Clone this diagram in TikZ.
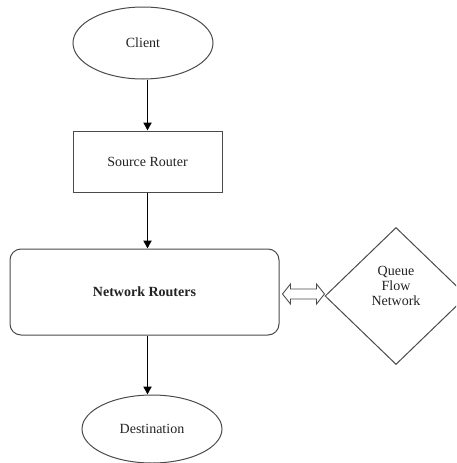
\documentclass[tikz,border=0pt]{standalone}
\usepackage{fontspec}
\setmainfont{Liberation Serif}
\usetikzlibrary{shapes.geometric,arrows.meta,calc}
\definecolor{edgegray}{HTML}{4A4A4A}
\definecolor{txt}{HTML}{222222}
\tikzset{
  x=1pt,y=1pt,
  shapeline/.style={draw=edgegray,line width=1pt,text=txt,font=\fontsize{14}{15}\selectfont,inner sep=0pt},
  ellnode/.style={shapeline,ellipse,minimum width=140pt,minimum height=72pt},
  boxnode/.style={shapeline,rectangle,minimum width=149pt,minimum height=61pt},
  rbox/.style={shapeline,rectangle,rounded corners=11pt,minimum width=269pt,minimum height=86pt},
  dianode/.style={shapeline,diamond,minimum width=142pt,minimum height=137pt,align=center},
  flowarrow/.style={draw=black,line width=1.9pt,-{Triangle[length=8pt,width=8pt]}},
  hollow/.style={draw=edgegray,line width=0.9pt,fill=white}
}
\begin{document}
\begin{tikzpicture}
\useasboundingbox (0,0) rectangle (456,-463);
\clip (0,0) rectangle (456,-463);
\node[ellnode] (client) at (143,-43) {Client};
\node[boxnode] (src) at (147.5,-161.5) {Source Router};
\node[rbox] (nr) at (144.5,-292) {\bfseries Network Routers};
\node[dianode] (qfn) at (396,-296) {};
\node[text=txt,font=\fontsize{14}{15}\selectfont,align=center,inner sep=0pt] (qfnlabel) at (396,-286) {Queue\\Flow\\Network};
\node[ellnode,minimum height=68pt] (dest) at (152,-429) {Destination};
\draw[flowarrow] (client.south -| src.center) -- (src.north);
\draw[flowarrow] (src.south) -- (src.south |- nr.north);
\draw[flowarrow] (nr.south -| src.center) -- (dest.north -| src.center);
\coordinate (dal) at ([shift={(3,-2)}]nr.east);
\coordinate (dar) at ([yshift=2]qfn.west);
\draw[hollow] (dal) -- ++(8,10) -- ++(0,-5) -- ($(dar)+(-8,5)$) -- ++(0,5) -- (dar)
  -- ++(-8,-10) -- ++(0,5) -- ($(dal)+(8,-5)$) -- ++(0,-5) -- cycle;
\end{tikzpicture}
\end{document}
